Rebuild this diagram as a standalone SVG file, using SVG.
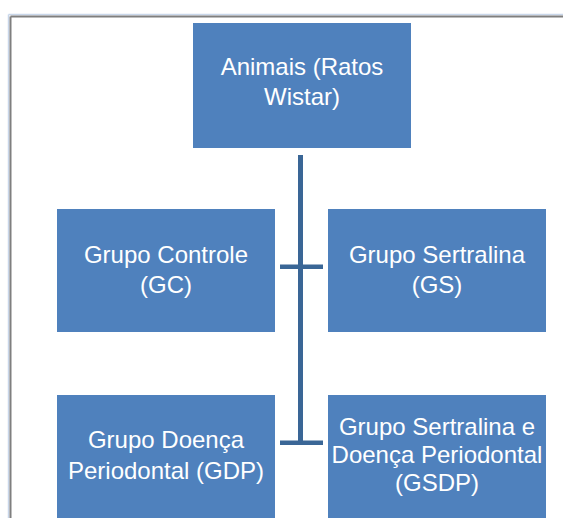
<svg xmlns="http://www.w3.org/2000/svg" width="563" height="518" viewBox="0 0 563 518">
<style>
.box{fill:#4F81BD;}
.t{font-family:"Liberation Sans",Arial,sans-serif;font-size:24px;fill:#FFFFFF;text-anchor:middle;}
.c{fill:#3A6696;}
</style>
<rect x="0" y="0" width="563" height="518" fill="#FFFFFF"/>
<g id="frame">
<line x1="8.5" y1="14.5" x2="563" y2="14.5" stroke="#C9D7EA" stroke-width="1.5"/>
<line x1="8.5" y1="14.5" x2="8.5" y2="518" stroke="#C9D7EA" stroke-width="1.5"/>
<line x1="10.5" y1="16.5" x2="563" y2="16.5" stroke="#7F7F7F" stroke-width="2"/>
<line x1="10.5" y1="16.5" x2="10.5" y2="518" stroke="#7F7F7F" stroke-width="2"/>
</g>
<g id="connectors">
<rect class="c" x="298" y="155" width="5" height="288"/>
<rect class="c" x="280" y="264.5" width="43" height="4.5"/>
<rect class="c" x="280" y="440.5" width="43" height="4.5"/>
</g>
<g id="animais">
<rect class="box" x="193" y="23" width="218" height="125"/>
<text class="t" x="302" y="75">Animais (Ratos</text>
<text class="t" x="302" y="105">Wistar)</text>
</g>
<g id="gc">
<rect class="box" x="57" y="209" width="218" height="123"/>
<text class="t" x="166" y="263">Grupo Controle</text>
<text class="t" x="166" y="293">(GC)</text>
</g>
<g id="gs">
<rect class="box" x="328" y="209" width="218" height="123"/>
<text class="t" x="437" y="263">Grupo Sertralina</text>
<text class="t" x="437" y="293">(GS)</text>
</g>
<g id="gdp">
<rect class="box" x="57" y="395" width="218" height="130"/>
<text class="t" x="166" y="448">Grupo Doença</text>
<text class="t" x="166" y="479">Periodontal (GDP)</text>
</g>
<g id="gsdp">
<rect class="box" x="328" y="395" width="218" height="130"/>
<text class="t" x="437" y="435">Grupo Sertralina e</text>
<text class="t" x="437" y="463">Doença Periodontal</text>
<text class="t" x="437" y="491">(GSDP)</text>
</g>
</svg>
